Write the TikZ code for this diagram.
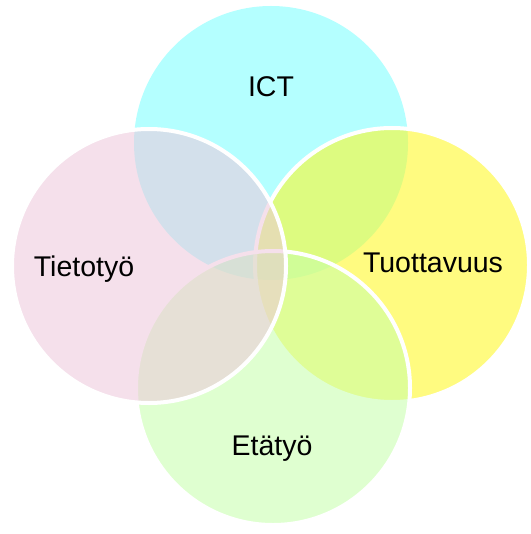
\documentclass[tikz,border=0pt]{standalone}
\usepackage{fontspec}
\setmainfont{Liberation Sans}
\definecolor{ccyan}{RGB}{119,255,255}
\definecolor{cyellow}{RGB}{255,248,24}
\definecolor{cgreen}{RGB}{198,255,170}
\definecolor{cpink}{RGB}{237,200,219}
\tikzset{
  venn/.style={circle, minimum size=274pt, inner sep=0pt, fill opacity=0.55, draw=white, draw opacity=1, line width=4pt},
  lbl/.style={anchor=base, font=\fontsize{28.5}{30}\selectfont, text=black, inner sep=0pt}
}
\begin{document}
\begin{tikzpicture}[x=1pt,y=-1pt]
\useasboundingbox (0,0) rectangle (530,534);
\fill[white] (0,0) rectangle (530,534);
\node[venn, fill=ccyan, draw=none] (ict) at (271,143) {};
\node[venn, fill=cyellow] (tuo) at (392,265) {};
\node[venn, fill=cgreen] (eta) at (273,388) {};
\node[venn, fill=cpink] (tie) at (149,266) {};
\node[lbl] (lict) at (271,97) {ICT};
\node[lbl] (ltie) at (84,276) {Tietotyö};
\node[lbl] (ltuo) at (433,272) {Tuottavuus};
\node[lbl] (leta) at (272,455) {Etätyö};
\end{tikzpicture}
\end{document}
